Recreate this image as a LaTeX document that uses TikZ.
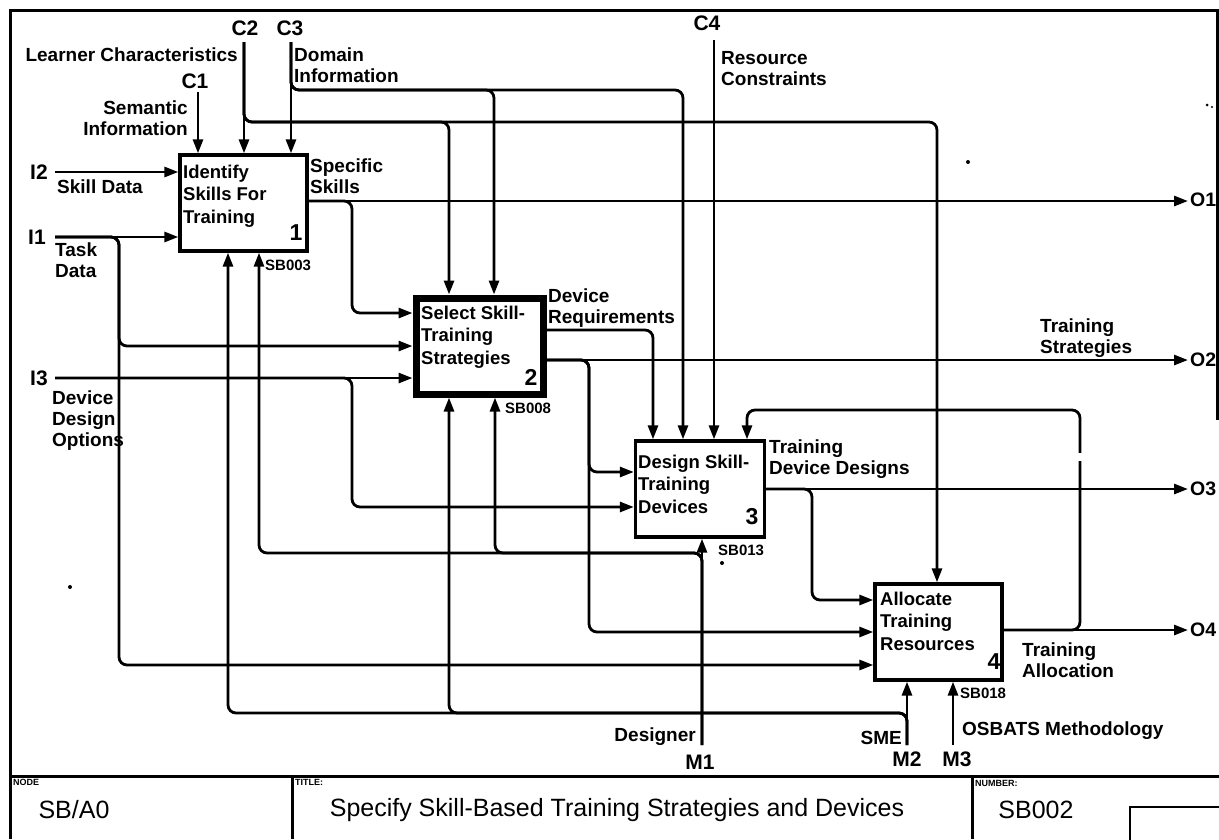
\documentclass[tikz,border=0pt]{standalone}
\usepackage{fontspec}
\setmainfont{Liberation Sans}
\usetikzlibrary{arrows.meta}
\begin{document}
\begin{tikzpicture}[x=1pt,y=-1pt,
  arr/.style={line width=2.8pt,-{Triangle[length=14pt,width=10pt]},rounded corners=8pt},
  frame/.style={line width=3pt},
  box/.style={draw,line width=3.3pt,inner sep=0pt},
  lbl/.style={font=\fontsize{19}{21}\selectfont\bfseries,inner sep=0pt,align=left},
  lblr/.style={font=\fontsize{19}{21}\selectfont\bfseries,inner sep=0pt,align=right},
  code/.style={font=\fontsize{21}{22}\selectfont\bfseries,inner sep=0pt},
  ocode/.style={font=\fontsize{19.5}{22}\selectfont\bfseries,inner sep=0pt,anchor=west},
  btxt/.style={font=\fontsize{18.5}{22.5}\selectfont\bfseries,inner sep=0pt,align=left,anchor=west},
  num/.style={font=\fontsize{23}{24}\selectfont\bfseries,inner sep=0pt},
  sbl/.style={font=\fontsize{15}{16}\selectfont\bfseries,inner sep=0pt,anchor=west},
  tiny/.style={font=\fontsize{9}{9}\selectfont\bfseries,inner sep=0pt,anchor=west},
  foot/.style={font=\fontsize{25}{27}\selectfont,inner sep=0pt}
]
\useasboundingbox (0,0) rectangle (1219,839);
\fill[white] (0,0) rectangle (1219,839);
\clip (0,0) rectangle (1219,839);

% ---------- frame ----------
\draw[frame] (10,839) -- (10,10) -- (1217,10) -- (1217,420);
\draw[frame] (10,776) -- (1219,776);
\draw[frame] (292,776) -- (292,839);
\draw[frame] (972,776) -- (972,839);
\draw[line width=2.5pt] (1130,845) |- (1230,807);

% ---------- boxes ----------
\node[box, minimum width=127pt, minimum height=96pt] (b1) at (243.5,203) {};
\node[box, line width=7pt, minimum width=127pt, minimum height=96pt] (b2) at (479.5,346) {};
\node[box, minimum width=129pt, minimum height=96pt] (b3) at (700,489) {};
\node[box, minimum width=127pt, minimum height=96pt] (b4) at (938.5,632) {};

\node[btxt] (t1) at (183,196) {Identify\\Skills For\\Training};
\node[btxt] (t2) at (421,337) {Select Skill-\\Training\\Strategies};
\node[btxt] (t3) at (638,484) {Design Skill-\\Training\\Devices};
\node[btxt] (t4) at (880,621) {Allocate\\Training\\Resources};
\node[num] (n1) at (296,233) {1};
\node[num] (n2) at (531,377) {2};
\node[num] (n3) at (752,517) {3};
\node[num] (n4) at (994,662) {4};

% ---------- coordinates ----------
\coordinate (c1s) at (198,92);
\coordinate (c2s) at (244,42);
\coordinate (c3s) at (291,42);
\coordinate (c4s) at (714,40);
\coordinate (c2a) at (449,122);
\coordinate (c2b) at (937,122);
\coordinate (c3a) at (494,90);
\coordinate (c3b) at (683,90);

\coordinate (i2s) at (55,172);
\coordinate (i1s) at (55,237);
\coordinate (i1v) at (119,346);
\coordinate (i1w) at (119,665);
\coordinate (i3s) at (55,378);
\coordinate (i3v) at (352,507);

\coordinate (o1e) at (1188,201);
\coordinate (ss)  at (352,313);
\coordinate (dr)  at (653,330);
\coordinate (o2e) at (1188,360);
\coordinate (ts1) at (589,472);
\coordinate (ts2) at (589,632);
\coordinate (o3e) at (1188,489);
\coordinate (dd)  at (812,600);
\coordinate (o4e) at (1188,630);
\coordinate (fb1) at (1080,410);
\coordinate (fb2) at (747,410);

\coordinate (m1s) at (702,745);
\coordinate (m1a) at (259,553);
\coordinate (m1b) at (495,553);
\coordinate (m2s) at (907,745);
\coordinate (m2a) at (228,713);
\coordinate (m2b) at (449,713);
\coordinate (m3s) at (953,745);

% ---------- controls ----------
\draw[arr] (c1s) -- (c1s |- b1.north);
\draw[arr] (c2s) -- (c2s |- b1.north);
\draw[arr] (c2s) |- (c2b) -- (c2b |- b4.north);
\draw[arr] (c2s) |- (c2a) -- (c2a |- b2.north);
\draw[arr] (c3s) -- (c3s |- b1.north);
\draw[arr] (c3s) |- (c3b) -- (c3b |- b3.north);
\draw[arr] (c3s) |- (c3a) -- (c3a |- b2.north);
\draw[arr] (c4s) -- (c4s |- b3.north);

% ---------- inputs ----------
\draw[arr] (i2s) -- (i2s -| b1.west);
\draw[arr] (i1s) -- (i1s -| b1.west);
\draw[arr] (i1s) -| (i1v) -- (i1v -| b2.west);
\draw[arr] (i1s) -| (i1w) -- (i1w -| b4.west);
\draw[arr] (i3s) -- (i3s -| b2.west);
\draw[arr] (i3s) -| (i3v) -- (i3v -| b3.west);

% ---------- outputs ----------
\draw[arr] (o1e -| b1.east) -- (o1e);
\draw[arr] (o1e -| b1.east) -| (ss) -- (ss -| b2.west);
\draw[arr] (dr -| b2.east) -- (dr) -- (dr |- b3.north);
\draw[arr] (o2e -| b2.east) -- (o2e);
\draw[arr] (o2e -| b2.east) -| (ts1) -- (ts1 -| b3.west);
\draw[arr] (o2e -| b2.east) -| (ts2) -- (ts2 -| b4.west);
\draw[arr] (o3e -| b3.east) -- (o3e);
\draw[arr] (o3e -| b3.east) -| (dd) -- (dd -| b4.west);
\draw[arr] (o4e -| b4.east) -- (o4e);
\draw[arr] (o4e -| b4.east) -| (fb1) -- (fb2) -- (fb2 |- b3.north);
\fill[white] (1074,453) rectangle (1086,461);

% ---------- mechanisms ----------
\draw[arr] (m1s) -- (m1s |- b3.south);
\draw[arr] (m1s) |- (m1a) -- (m1a |- b1.south);
\draw[arr] (m1s) |- (m1b) -- (m1b |- b2.south);
\draw[arr] (m2s) -- (m2s |- b4.south);
\draw[arr] (m2s) |- (m2a) -- (m2a |- b1.south);
\draw[arr] (m2s) |- (m2b) -- (m2b |- b2.south);
\draw[arr] (m3s) -- (m3s |- b4.south);

% ---------- ICOM codes ----------
\node[code] (C1) at (195,81) {C1};
\node[code] (C2) at (245,28) {C2};
\node[code] (C3) at (290,28) {C3};
\node[code] (C4) at (707,23) {C4};
\node[code] (I1) at (37,237) {I1};
\node[code] (I2) at (39,172) {I2};
\node[code] (I3) at (39,378) {I3};
\node[ocode] (O1) at (1190,200) {O1};
\node[ocode] (O2) at (1190,360) {O2};
\node[ocode] (O3) at (1190,489) {O3};
\node[ocode] (O4) at (1190,630) {O4};
\node[code] (M1) at (700,762) {M1};
\node[code] (M2) at (907,759) {M2};
\node[code] (M3) at (957,759) {M3};

% ---------- labels ----------
\node[lblr,anchor=east] (l1) at (238,55) {Learner Characteristics};
\node[lblr,anchor=east] (l2) at (188,118.5) {Semantic\\Information};
\node[lbl,anchor=west] (l3) at (294,65) {Domain\\Information};
\node[lbl,anchor=west] (l4) at (721,69) {Resource\\Constraints};
\node[lbl,anchor=west] (l5) at (57,187) {Skill Data};
\node[lbl,anchor=west] (l6) at (55,260) {Task\\Data};
\node[lbl,anchor=west] (l7) at (310,176) {Specific\\Skills};
\node[lbl,anchor=west] (l8) at (52,421) {Device\\Design\\Options};
\node[lbl,anchor=west] (l9) at (548,308) {Device\\Requirements};
\node[lbl,anchor=west] (l10) at (1040,338) {Training\\Strategies};
\node[lbl,anchor=west] (l11) at (769,459) {Training\\Device Designs};
\node[lbl,anchor=west] (l12) at (1022,660) {Training\\Allocation};
\node[lblr,anchor=east] (l13) at (696,737) {Designer};
\node[lblr,anchor=east] (l14) at (902,738) {SME};
\node[lbl,anchor=west] (l15) at (962,731) {OSBATS Methodology};

\node[sbl] (s1) at (265,265) {SB003};
\node[sbl] (s2) at (505,408) {SB008};
\node[sbl] (s3) at (718,550) {SB013};
\node[sbl] (s4) at (960,693) {SB018};

% ---------- stray marks ----------
\fill (70,587) circle (2pt);
\fill (968,162) circle (2pt);
\fill (1207,105) circle (1.5pt);
\fill (1212,107) circle (1.2pt);
\fill (722,563) circle (2pt);

% ---------- footer ----------
\node[tiny] (f1) at (13,782) {NODE};
\node[tiny] (f2) at (295,782) {TITLE:};
\node[tiny] (f3) at (975,783) {NUMBER:};
\node[foot] (f4) at (74,810) {SB/A0};
\node[foot] (f5) at (617,810) {Specify Skill-Based Training Strategies and Devices};
\node[foot] (f6) at (1036,810) {SB002};
\end{tikzpicture}
\end{document}
